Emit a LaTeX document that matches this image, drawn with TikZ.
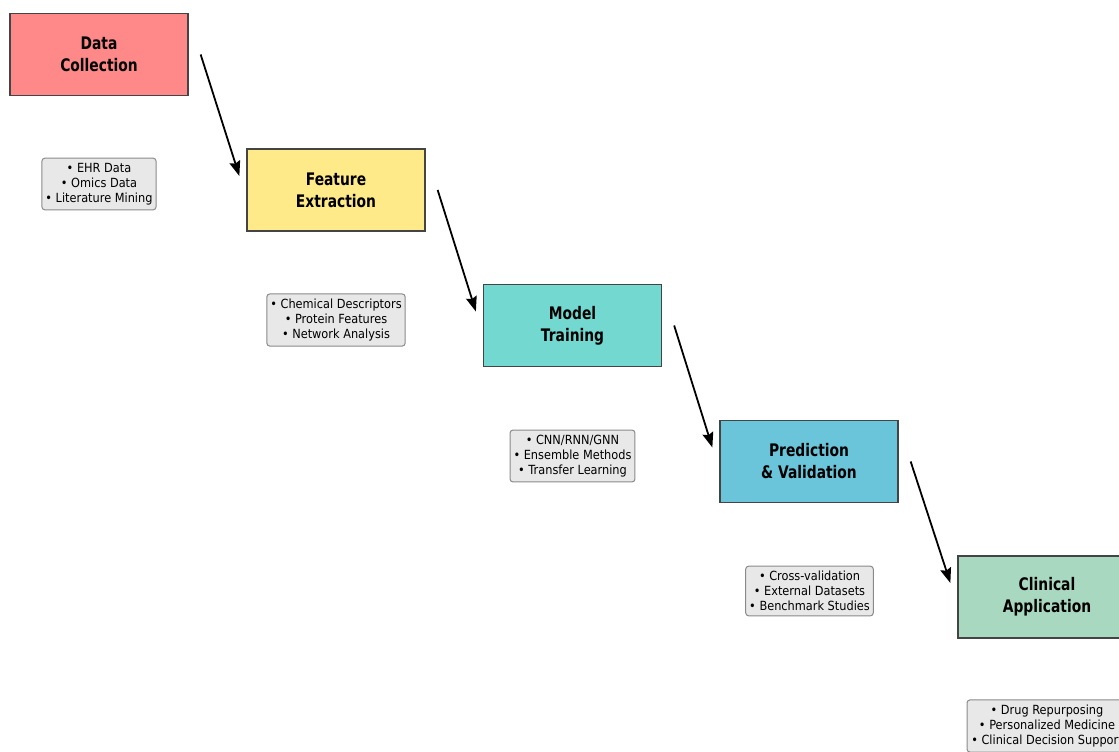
\documentclass[tikz,border=0pt]{standalone}
\usepackage{fontspec}
\setmainfont{DejaVu Sans}
\newfontfamily\titlefont{DejaVu Sans}[FakeStretch=0.8]
\newfontfamily\smallfont{DejaVu Sans}[FakeStretch=0.9]
\usetikzlibrary{arrows.meta,calc}
\definecolor{cred}{HTML}{FF8888}
\definecolor{cyel}{HTML}{FFEA8A}
\definecolor{cteal}{HTML}{72D8D0}
\definecolor{cblue}{HTML}{6BC5DA}
\definecolor{cgreen}{HTML}{A9D8C1}
\definecolor{cnote}{HTML}{E8E8E8}
\definecolor{cnoteb}{HTML}{8A8A8A}
\definecolor{cbord}{HTML}{444444}
\begin{document}
\begin{tikzpicture}[x=1pt,y=-1pt,
  stage/.style={draw=cbord,line width=1.3pt,minimum width=178pt,minimum height=82pt,inner sep=0pt,align=center,font=\titlefont\bfseries\fontsize{17.3}{22}\selectfont},
  note/.style={draw=cnoteb,fill=cnote,line width=1pt,rounded corners=3pt,align=center,inner xsep=3.5pt,inner ysep=5pt,font=\smallfont\fontsize{12.6}{15}\selectfont},
  flow/.style={line width=1.8pt,-{Stealth[length=15pt,width=11pt,inset=2pt]}}]
\useasboundingbox (0,0) rectangle (1119,752);
\clip (0,0) rectangle (1119,752);
\node[stage,fill=cred] (s1) at (99,54.5) {Data\\Collection};
\node[stage,fill=cyel] (s2) at (336,190) {Feature\\Extraction};
\node[stage,fill=cteal] (s3) at (572.5,325.5) {Model\\Training};
\node[stage,fill=cblue] (s4) at (809,461.5) {Prediction\\\& Validation};
\node[stage,fill=cgreen] (s5) at (1047,597) {Clinical\\Application};
\node[note] (n1) at (99,184) {• EHR Data\\• Omics Data\\• Literature Mining};
\node[note] (n2) at (336,320) {• Chemical Descriptors\\• Protein Features\\• Network Analysis};
\node[note] (n3) at (572.5,456) {• CNN/RNN/GNN\\• Ensemble Methods\\• Transfer Learning};
\node[note] (n4) at (809.5,591) {• Cross-validation\\• External Datasets\\• Benchmark Studies};
\node[note,minimum width=160pt] (n5) at (1047,726) {• Drug Repurposing\\• Personalized Medicine\\• Clinical Decision Support};
\draw[flow] ($(s1.east)+(12,0)$) -- ($(s2.west)+(-7,-14)$);
\draw[flow] ($(s2.east)+(12,0)$) -- ($(s3.west)+(-7,-14)$);
\draw[flow] ($(s3.east)+(12,0)$) -- ($(s4.west)+(-7,-14)$);
\draw[flow] ($(s4.east)+(12,0)$) -- ($(s5.west)+(-7,-14)$);
\end{tikzpicture}
\end{document}
